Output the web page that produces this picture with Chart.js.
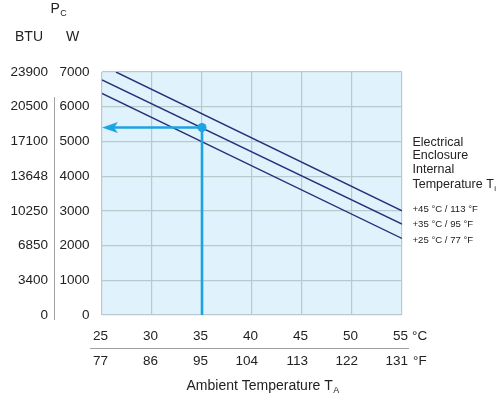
<!DOCTYPE html>
<html>
<head>
<meta charset="utf-8">
<script src="https://cdn.jsdelivr.net/npm/chart.js@4.4.1/dist/chart.umd.min.js"></script>
<style>
  body { margin: 0; background: #fff; }
  canvas { display: block; }
</style>
</head>
<body>
<canvas id="grafica" width="500" height="397"></canvas>
<script>
// axis ticks
const celsiusTicks = [25, 30, 35, 40, 45, 50, 55];
const fahrenheitLabels = ['77', '86', '95', '104', '113', '122', '131'];
const wattTicks = [0, 1000, 2000, 3000, 4000, 5000, 6000, 7000];
const btuLabels = ['0', '3400', '6850', '10250', '13648', '17100', '20500', '23900'];

// internal temperature curves (ambient °C -> W)
const seriesLabels = ['+45 °C / 113 °F', '+35 °C / 95 °F', '+25 °C / 77 °F'];
const ambient45 = [26.4, 55];
const power45 = [7000, 3000];
const ambient35 = [25, 55];
const power35 = [6770, 2620];
const ambient25 = [25, 55];
const power25 = [6385, 2205];

const exampleTemp = [25.8, 35, 35];
const examplePower = [5400, 5400, 0];

const NAVY = '#27307a';
const BLUE = '#1ba4e2';
const TEXT = '#222';
const FONT = '"Liberation Sans", Arial, sans-serif';

const toPoints = (xs, ys) => xs.map((x, i) => ({ x: x, y: ys[i] }));

// arrow head pointing left
const arrow = document.createElement('canvas');
arrow.width = 16; arrow.height = 11;
(() => {
    const a = arrow.getContext('2d');
    a.fillStyle = BLUE;
    a.beginPath();
    a.moveTo(0, 5.5);
    a.lineTo(16, 0);
    a.lineTo(12, 5.5);
    a.lineTo(16, 11);
    a.closePath();
    a.fill();
})();

function subText(ctx, main, sub, x, y, size, subSize) {
    ctx.font = size + 'px ' + FONT;
    ctx.fillText(main, x, y);
    const w = ctx.measureText(main).width;
    ctx.font = subSize + 'px ' + FONT;
    ctx.fillText(sub, x + w + 0.5, y + size * 0.32);
}

const fondo = {
    id: 'fondo',
    beforeDraw(chart) {
        const { ctx, chartArea: a } = chart;
        ctx.save();
        ctx.fillStyle = '#e0f2fb';
        ctx.fillRect(a.left, a.top, a.right - a.left, a.bottom - a.top);
        ctx.restore();
    }
};

const textos = {
    id: 'textos',
    afterDraw(chart) {
        const ctx = chart.ctx;
        ctx.save();
        ctx.fillStyle = TEXT;
        ctx.textBaseline = 'middle';
        ctx.textAlign = 'left';

        // header
        subText(ctx, 'P', 'C', 50.5, 9, 14, 9);
        ctx.font = '14px ' + FONT;
        ctx.textAlign = 'center';
        ctx.fillText('BTU', 29, 37);
        ctx.fillText('W', 72.7, 37);

        // units
        ctx.textAlign = 'left';
        ctx.font = '13.5px ' + FONT;
        ctx.fillText('°C', 412, 336);
        ctx.fillText('°F', 413, 361);

        // x title
        subText(ctx, 'Ambient Temperature T', 'A', 186.5, 386, 14, 9);

        // legend
        ctx.font = '12.5px ' + FONT;
        ctx.fillText('Electrical', 412.5, 142.5);
        ctx.fillText('Enclosure', 412.5, 156);
        ctx.fillText('Internal', 412.5, 169.5);
        subText(ctx, 'Temperature T', 'i', 412.5, 185, 12.5, 8);
        ctx.font = '9.6px ' + FONT;
        seriesLabels.forEach((t, i) => ctx.fillText(t, 412.5, 209.5 + i * 15.2));

        // separator lines
        ctx.strokeStyle = '#a0a0a0';
        ctx.lineWidth = 1;
        ctx.beginPath();
        ctx.moveTo(54.5, 97);
        ctx.lineTo(54.5, 320);
        ctx.moveTo(90, 348.5);
        ctx.lineTo(409, 348.5);
        ctx.stroke();
        ctx.restore();
    }
};

const lineStyle = {
    borderColor: NAVY,
    borderWidth: 1.4,
    pointRadius: 0,
    fill: false,
    tension: 0
};

new Chart(document.getElementById('grafica'), {
    type: 'scatter',
    data: {
        datasets: [
            {
                label: 'ejemplo',
                data: toPoints(exampleTemp, examplePower),
                showLine: true,
                borderColor: BLUE,
                borderWidth: 2.6,
                backgroundColor: BLUE,
                pointBackgroundColor: BLUE,
                pointBorderWidth: 0,
                pointStyle: [arrow, 'circle', 'circle'],
                pointRadius: [8, 4.5, 0],
                order: 0
            },
            Object.assign({ label: seriesLabels[0], data: toPoints(ambient45, power45), showLine: true, order: 1 }, lineStyle),
            Object.assign({ label: seriesLabels[1], data: toPoints(ambient35, power35), showLine: true, order: 1 }, lineStyle),
            Object.assign({ label: seriesLabels[2], data: toPoints(ambient25, power25), showLine: true, order: 1 }, lineStyle)
        ]
    },
    options: {
        responsive: false,
        animation: false,
        events: [],
        layout: { padding: { top: 72, right: 98, bottom: 19, left: 0 } },
        plugins: {
            legend: { display: false },
            tooltip: { enabled: false }
        },
        scales: {
            x: {
                type: 'linear',
                position: 'bottom',
                weight: 0,
                min: celsiusTicks[0],
                max: celsiusTicks[celsiusTicks.length - 1],
                afterBuildTicks: s => { s.ticks = celsiusTicks.map(v => ({ value: v })); },
                afterFit: s => { s.height = 33; },
                grid: { color: '#b9cace', lineWidth: 1.2, drawTicks: false },
                border: { display: false },
                ticks: {
                    padding: 13,
                    align: 'end',
                    labelOffset: 6,
                    color: TEXT,
                    font: { family: FONT, size: 13.5 },
                    autoSkip: false,
                    maxRotation: 0,
                    callback: v => String(v)
                }
            },
            xF: {
                type: 'linear',
                position: 'bottom',
                weight: 1,
                min: celsiusTicks[0],
                max: celsiusTicks[celsiusTicks.length - 1],
                afterBuildTicks: s => { s.ticks = celsiusTicks.map(v => ({ value: v })); },
                afterFit: s => { s.height = 30; },
                grid: { display: false, drawTicks: false },
                border: { display: false },
                ticks: {
                    padding: 5,
                    align: 'end',
                    labelOffset: 6,
                    color: TEXT,
                    font: { family: FONT, size: 13.5 },
                    autoSkip: false,
                    maxRotation: 0,
                    callback: v => fahrenheitLabels[celsiusTicks.indexOf(v)]
                }
            },
            y: {
                type: 'linear',
                position: 'left',
                weight: 0,
                min: wattTicks[0],
                max: wattTicks[wattTicks.length - 1],
                afterBuildTicks: s => { s.ticks = wattTicks.map(v => ({ value: v })); },
                afterFit: s => { s.width = 48; },
                grid: { color: '#b9cace', lineWidth: 1.2, drawTicks: false },
                border: { display: false },
                ticks: {
                    padding: 12.5,
                    color: TEXT,
                    font: { family: FONT, size: 13.5 },
                    autoSkip: false,
                    callback: v => String(v)
                }
            },
            yBtu: {
                type: 'linear',
                position: 'left',
                weight: 1,
                min: wattTicks[0],
                max: wattTicks[wattTicks.length - 1],
                afterBuildTicks: s => { s.ticks = wattTicks.map(v => ({ value: v })); },
                afterFit: s => { s.width = 54; },
                grid: { display: false, drawTicks: false },
                border: { display: false },
                ticks: {
                    padding: 6,
                    color: TEXT,
                    font: { family: FONT, size: 13.5 },
                    autoSkip: false,
                    callback: v => btuLabels[wattTicks.indexOf(v)]
                }
            }
        }
    },
    plugins: [fondo, textos]
});
</script>
</body>
</html>
